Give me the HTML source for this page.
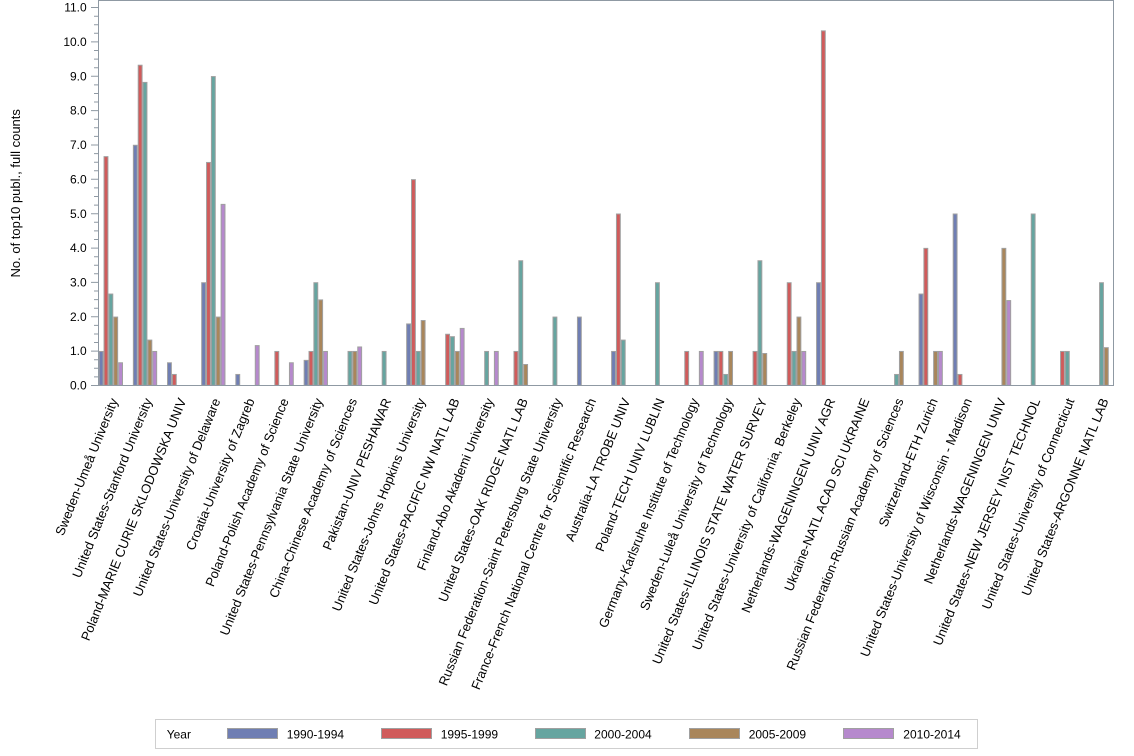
<!DOCTYPE html>
<html>
<head>
<meta charset="utf-8">
<style>
html,body{margin:0;padding:0;background:#fff;}
svg{display:block;}
text{font-family:"Liberation Sans",Arial,sans-serif;fill:#000;}
.t{font-size:12px;}
.c{font-size:13px;}
.bars rect{stroke:#a0a0a0;stroke-width:1;}
.b1{fill:#6f7eb3}.b2{fill:#d05b5b}.b3{fill:#66a5a0}.b4{fill:#a9865b}.b5{fill:#b689cd}
</style>
</head>
<body>
<svg width="1134" height="756" viewBox="0 0 1134 756" xmlns="http://www.w3.org/2000/svg">
<rect x="0" y="0" width="1134" height="756" fill="#fff"/>

<!-- bars -->
<g class="bars">
<g transform="translate(98.70,0)">
<rect class="b1" x="0.5" y="351.44" width="3.86" height="33.86"/>
<rect class="b2" x="5.36" y="156.62" width="3.86" height="228.68"/>
<rect class="b3" x="10.22" y="294.06" width="3.86" height="91.24"/>
<rect class="b4" x="15.08" y="317.08" width="3.86" height="68.22"/>
<rect class="b5" x="19.94" y="362.78" width="3.86" height="22.52"/>
</g>
<g transform="translate(132.86,0)">
<rect class="b1" x="0.5" y="145.28" width="3.86" height="240.02"/>
<rect class="b2" x="5.36" y="65.22" width="3.86" height="320.08"/>
<rect class="b3" x="10.22" y="82.40" width="3.86" height="302.90"/>
<rect class="b4" x="15.08" y="340.10" width="3.86" height="45.20"/>
<rect class="b5" x="19.94" y="351.44" width="3.86" height="33.86"/>
</g>
<g transform="translate(167.02,0)">
<rect class="b1" x="0.5" y="362.78" width="3.86" height="22.52"/>
<rect class="b2" x="5.36" y="374.46" width="3.86" height="10.84"/>
</g>
<g transform="translate(201.18,0)">
<rect class="b1" x="0.5" y="282.72" width="3.86" height="102.58"/>
<rect class="b2" x="5.36" y="162.46" width="3.86" height="222.84"/>
<rect class="b3" x="10.22" y="76.56" width="3.86" height="308.74"/>
<rect class="b4" x="15.08" y="317.08" width="3.86" height="68.22"/>
<rect class="b5" x="19.94" y="204.38" width="3.86" height="180.92"/>
</g>
<g transform="translate(235.34,0)">
<rect class="b1" x="0.5" y="374.46" width="3.86" height="10.84"/>
<rect class="b5" x="19.94" y="345.60" width="3.86" height="39.70"/>
</g>
<g transform="translate(269.50,0)">
<rect class="b2" x="5.36" y="351.44" width="3.86" height="33.86"/>
<rect class="b5" x="19.94" y="362.78" width="3.86" height="22.52"/>
</g>
<g transform="translate(303.66,0)">
<rect class="b1" x="0.5" y="360.37" width="3.86" height="24.93"/>
<rect class="b2" x="5.36" y="351.44" width="3.86" height="33.86"/>
<rect class="b3" x="10.22" y="282.72" width="3.86" height="102.58"/>
<rect class="b4" x="15.08" y="299.90" width="3.86" height="85.40"/>
<rect class="b5" x="19.94" y="351.44" width="3.86" height="33.86"/>
</g>
<g transform="translate(337.82,0)">
<rect class="b3" x="10.22" y="351.44" width="3.86" height="33.86"/>
<rect class="b4" x="15.08" y="351.44" width="3.86" height="33.86"/>
<rect class="b5" x="19.94" y="346.97" width="3.86" height="38.33"/>
</g>
<g transform="translate(371.98,0)">
<rect class="b3" x="10.22" y="351.44" width="3.86" height="33.86"/>
</g>
<g transform="translate(406.14,0)">
<rect class="b1" x="0.5" y="323.95" width="3.86" height="61.35"/>
<rect class="b2" x="5.36" y="179.64" width="3.86" height="205.66"/>
<rect class="b3" x="10.22" y="351.44" width="3.86" height="33.86"/>
<rect class="b4" x="15.08" y="320.52" width="3.86" height="64.78"/>
</g>
<g transform="translate(440.30,0)">
<rect class="b2" x="5.36" y="334.26" width="3.86" height="51.04"/>
<rect class="b3" x="10.22" y="336.67" width="3.86" height="48.63"/>
<rect class="b4" x="15.08" y="351.44" width="3.86" height="33.86"/>
<rect class="b5" x="19.94" y="328.42" width="3.86" height="56.88"/>
</g>
<g transform="translate(474.46,0)">
<rect class="b3" x="10.22" y="351.44" width="3.86" height="33.86"/>
<rect class="b5" x="19.94" y="351.44" width="3.86" height="33.86"/>
</g>
<g transform="translate(508.62,0)">
<rect class="b2" x="5.36" y="351.44" width="3.86" height="33.86"/>
<rect class="b3" x="10.22" y="260.73" width="3.86" height="124.57"/>
<rect class="b4" x="15.08" y="364.50" width="3.86" height="20.80"/>
</g>
<g transform="translate(542.78,0)">
<rect class="b3" x="10.22" y="317.08" width="3.86" height="68.22"/>
</g>
<g transform="translate(576.94,0)">
<rect class="b1" x="0.5" y="317.08" width="3.86" height="68.22"/>
</g>
<g transform="translate(611.10,0)">
<rect class="b1" x="0.5" y="351.44" width="3.86" height="33.86"/>
<rect class="b2" x="5.36" y="214.00" width="3.86" height="171.30"/>
<rect class="b3" x="10.22" y="340.10" width="3.86" height="45.20"/>
</g>
<g transform="translate(645.26,0)">
<rect class="b3" x="10.22" y="282.72" width="3.86" height="102.58"/>
</g>
<g transform="translate(679.42,0)">
<rect class="b2" x="5.36" y="351.44" width="3.86" height="33.86"/>
<rect class="b5" x="19.94" y="351.44" width="3.86" height="33.86"/>
</g>
<g transform="translate(713.58,0)">
<rect class="b1" x="0.5" y="351.44" width="3.86" height="33.86"/>
<rect class="b2" x="5.36" y="351.44" width="3.86" height="33.86"/>
<rect class="b3" x="10.22" y="374.46" width="3.86" height="10.84"/>
<rect class="b4" x="15.08" y="351.44" width="3.86" height="33.86"/>
</g>
<g transform="translate(747.74,0)">
<rect class="b2" x="5.36" y="351.44" width="3.86" height="33.86"/>
<rect class="b3" x="10.22" y="260.73" width="3.86" height="124.57"/>
<rect class="b4" x="15.08" y="353.50" width="3.86" height="31.80"/>
</g>
<g transform="translate(781.90,0)">
<rect class="b2" x="5.36" y="282.72" width="3.86" height="102.58"/>
<rect class="b3" x="10.22" y="351.44" width="3.86" height="33.86"/>
<rect class="b4" x="15.08" y="317.08" width="3.86" height="68.22"/>
<rect class="b5" x="19.94" y="351.44" width="3.86" height="33.86"/>
</g>
<g transform="translate(816.06,0)">
<rect class="b1" x="0.5" y="282.72" width="3.86" height="102.58"/>
<rect class="b2" x="5.36" y="30.86" width="3.86" height="354.44"/>
</g>
<g transform="translate(884.38,0)">
<rect class="b3" x="10.22" y="374.46" width="3.86" height="10.84"/>
<rect class="b4" x="15.08" y="351.44" width="3.86" height="33.86"/>
</g>
<g transform="translate(918.54,0)">
<rect class="b1" x="0.5" y="294.06" width="3.86" height="91.24"/>
<rect class="b2" x="5.36" y="248.36" width="3.86" height="136.94"/>
<rect class="b4" x="15.08" y="351.44" width="3.86" height="33.86"/>
<rect class="b5" x="19.94" y="351.44" width="3.86" height="33.86"/>
</g>
<g transform="translate(952.70,0)">
<rect class="b1" x="0.5" y="214.00" width="3.86" height="171.30"/>
<rect class="b2" x="5.36" y="374.46" width="3.86" height="10.84"/>
</g>
<g transform="translate(986.86,0)">
<rect class="b4" x="15.08" y="248.36" width="3.86" height="136.94"/>
<rect class="b5" x="19.94" y="300.59" width="3.86" height="84.71"/>
</g>
<g transform="translate(1021.02,0)">
<rect class="b3" x="10.22" y="214.00" width="3.86" height="171.30"/>
</g>
<g transform="translate(1055.18,0)">
<rect class="b2" x="5.36" y="351.44" width="3.86" height="33.86"/>
<rect class="b3" x="10.22" y="351.44" width="3.86" height="33.86"/>
</g>
<g transform="translate(1089.34,0)">
<rect class="b3" x="10.22" y="282.72" width="3.86" height="102.58"/>
<rect class="b4" x="15.08" y="347.66" width="3.86" height="37.64"/>
</g>
</g>

<!-- frame -->
<rect x="98.5" y="0.5" width="1015" height="385" fill="none" stroke="#8f99a3" stroke-width="1"/>

<!-- y ticks -->
<path stroke="#8f99a3" stroke-width="1" fill="none" d="
M91,385.5H98 M91,351.1H98 M91,316.8H98 M91,282.4H98 M91,248.1H98 M91,213.7H98 M91,179.3H98 M91,145H98 M91,110.6H98 M91,76.3H98 M91,41.9H98 M91,7.5H98
M94,376.9H98 M94,368.3H98 M94,359.7H98
M94,342.5H98 M94,334H98 M94,325.4H98
M94,308.2H98 M94,299.6H98 M94,291H98
M94,273.8H98 M94,265.2H98 M94,256.7H98
M94,239.5H98 M94,230.9H98 M94,222.3H98
M94,205.1H98 M94,196.5H98 M94,187.9H98
M94,170.8H98 M94,162.2H98 M94,153.6H98
M94,136.4H98 M94,127.8H98 M94,119.2H98
M94,102H98 M94,93.5H98 M94,84.9H98
M94,67.7H98 M94,59.1H98 M94,50.5H98
M94,33.3H98 M94,24.7H98 M94,16.2H98
"/>

<!-- y tick labels -->
<g class="t" text-anchor="end">
<text x="86.7" y="389.6">0.0</text>
<text x="86.7" y="355.2">1.0</text>
<text x="86.7" y="320.9">2.0</text>
<text x="86.7" y="286.5">3.0</text>
<text x="86.7" y="252.2">4.0</text>
<text x="86.7" y="217.8">5.0</text>
<text x="86.7" y="183.4">6.0</text>
<text x="86.7" y="149.1">7.0</text>
<text x="86.7" y="114.7">8.0</text>
<text x="86.7" y="80.4">9.0</text>
<text x="86.7" y="46">10.0</text>
<text x="86.7" y="11.6">11.0</text>
</g>

<!-- y axis title -->
<text class="c" text-anchor="middle" transform="translate(19.8,193.3) rotate(-90)">No. of top10 publ., full counts</text>

<!-- category labels -->
<g class="c" text-anchor="end">
<text transform="translate(118.15,400.5) rotate(-68)">Sweden-Umeå University</text>
<text transform="translate(152.31,400.5) rotate(-68)">United States-Stanford University</text>
<text transform="translate(186.47,400.5) rotate(-68)">Poland-MARIE CURIE SKLODOWSKA UNIV</text>
<text transform="translate(220.63,400.5) rotate(-68)">United States-University of Delaware</text>
<text transform="translate(254.79,400.5) rotate(-68)">Croatia-University of Zagreb</text>
<text transform="translate(288.95,400.5) rotate(-68)">Poland-Polish Academy of Science</text>
<text transform="translate(323.11,400.5) rotate(-68)">United States-Pennsylvania State University</text>
<text transform="translate(357.27,400.5) rotate(-68)">China-Chinese Academy of Sciences</text>
<text transform="translate(391.43,400.5) rotate(-68)">Pakistan-UNIV PESHAWAR</text>
<text transform="translate(425.59,400.5) rotate(-68)">United States-Johns Hopkins University</text>
<text transform="translate(459.75,400.5) rotate(-68)">United States-PACIFIC NW NATL LAB</text>
<text transform="translate(493.91,400.5) rotate(-68)">Finland-Abo Akademi University</text>
<text transform="translate(528.07,400.5) rotate(-68)">United States-OAK RIDGE NATL LAB</text>
<text transform="translate(562.23,400.5) rotate(-68)">Russian Federation-Saint Petersburg State University</text>
<text transform="translate(596.39,400.5) rotate(-68)">France-French National Centre for Scientific Research</text>
<text transform="translate(630.55,400.5) rotate(-68)">Australia-LA TROBE UNIV</text>
<text transform="translate(664.71,400.5) rotate(-68)">Poland-TECH UNIV LUBLIN</text>
<text transform="translate(698.87,400.5) rotate(-68)">Germany-Karlsruhe Institute of Technology</text>
<text transform="translate(733.03,400.5) rotate(-68)">Sweden-Luleå University of Technology</text>
<text transform="translate(767.19,400.5) rotate(-68)">United States-ILLINOIS STATE WATER SURVEY</text>
<text transform="translate(801.35,400.5) rotate(-68)">United States-University of California, Berkeley</text>
<text transform="translate(835.51,400.5) rotate(-68)">Netherlands-WAGENINGEN UNIV AGR</text>
<text transform="translate(869.67,400.5) rotate(-68)">Ukraine-NATL ACAD SCI UKRAINE</text>
<text transform="translate(903.83,400.5) rotate(-68)">Russian Federation-Russian Academy of Sciences</text>
<text transform="translate(937.99,400.5) rotate(-68)">Switzerland-ETH Zurich</text>
<text transform="translate(972.15,400.5) rotate(-68)">United States-University of Wisconsin - Madison</text>
<text transform="translate(1006.31,400.5) rotate(-68)">Netherlands-WAGENINGEN UNIV</text>
<text transform="translate(1040.47,400.5) rotate(-68)">United States-NEW JERSEY INST TECHNOL</text>
<text transform="translate(1074.63,400.5) rotate(-68)">United States-University of Connecticut</text>
<text transform="translate(1108.79,400.5) rotate(-68)">United States-ARGONNE NATL LAB</text>
</g>

<!-- legend -->
<rect x="155.5" y="719.5" width="822" height="29" fill="#fff" stroke="#cfcfcf" stroke-width="1"/>
<g class="t">
<text x="166.7" y="738.3">Year</text>
<rect x="227.5" y="728.5" width="50" height="10" fill="#6f7eb3" stroke="#a0a0a0"/>
<text x="286.7" y="738.3">1990-1994</text>
<rect x="381.5" y="728.5" width="50" height="10" fill="#d05b5b" stroke="#a0a0a0"/>
<text x="440.7" y="738.3">1995-1999</text>
<rect x="535.5" y="728.5" width="50" height="10" fill="#66a5a0" stroke="#a0a0a0"/>
<text x="594.3" y="738.3">2000-2004</text>
<rect x="689.5" y="728.5" width="50" height="10" fill="#a9865b" stroke="#a0a0a0"/>
<text x="748.7" y="738.3">2005-2009</text>
<rect x="843.5" y="728.5" width="50" height="10" fill="#b689cd" stroke="#a0a0a0"/>
<text x="903.3" y="738.3">2010-2014</text>
</g>
</svg>
</body>
</html>
